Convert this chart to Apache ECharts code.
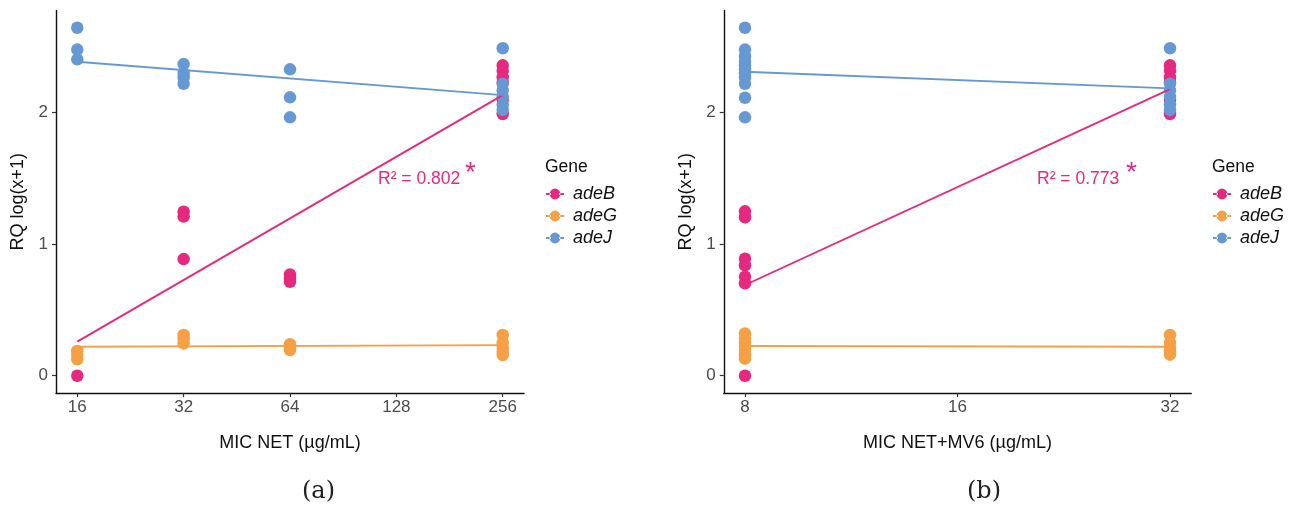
<!DOCTYPE html>
<html>
<head>
<meta charset="utf-8">
<script src="https://cdn.jsdelivr.net/npm/echarts@6/dist/echarts.min.js"></script>
<style>html,body{margin:0;padding:0;background:#fff;}#c{width:1295px;height:506px;}</style>
</head>
<body>
<div id="c"></div>
<script>
// ---- data: [MIC, RQ log(x+1)] ----
var genes = ['adeB', 'adeG', 'adeJ'];
var colors = ['#E6287E', '#F5A045', '#6699D4'];

// panel (a): MIC NET
var a_adeB = [[16,0],[32,1.247],[32,1.21],[32,0.887],[64,0.77],[64,0.74],[64,0.715],[256,2.36],[256,2.32],[256,2.27],[256,2.23],[256,2.10],[256,1.99]];
var a_adeG = [[16,0.188],[16,0.16],[16,0.125],[32,0.31],[32,0.28],[32,0.246],[64,0.24],[64,0.22],[64,0.195],[256,0.31],[256,0.25],[256,0.21],[256,0.18],[256,0.157]];
var a_adeJ = [[16,2.646],[16,2.48],[16,2.406],[32,2.37],[32,2.30],[32,2.27],[32,2.22],[64,2.33],[64,2.117],[64,1.965],[256,2.49],[256,2.22],[256,2.17],[256,2.12],[256,2.06],[256,2.02]];
// fitted lines (end points)
var a_fitB = [[16,0.259],[256,2.134]];
var a_fitG = [[16,0.22],[256,0.233]];
var a_fitJ = [[16,2.388],[256,2.134]];
var a_ticks = [16, 32, 64, 128, 256];
var a_r2 = 'R\u00B2 = 0.802';

// panel (b): MIC NET+MV6
var b_adeB = [[8,0],[8,1.25],[8,1.205],[8,0.89],[8,0.84],[8,0.753],[8,0.703],[32,2.36],[32,2.32],[32,2.27],[32,2.23],[32,2.10],[32,1.99]];
var b_adeG = [[8,0.322],[8,0.28],[8,0.25],[8,0.22],[8,0.19],[8,0.16],[8,0.13],[32,0.31],[32,0.25],[32,0.21],[32,0.18],[32,0.16]];
var b_adeJ = [[8,2.646],[8,2.48],[8,2.43],[8,2.39],[8,2.36],[8,2.33],[8,2.30],[8,2.27],[8,2.22],[8,2.114],[8,1.965],[32,2.49],[32,2.22],[32,2.17],[32,2.12],[32,2.06],[32,2.02]];
var b_fitB = [[8,0.69],[32,2.18]];
var b_fitG = [[8,0.226],[32,0.22]];
var b_fitJ = [[8,2.312],[32,2.185]];
var b_ticks = [8, 16, 32];
var b_r2 = 'R\u00B2 = 0.773';

var yTicks = [0, 1, 2];

// ---- build ----
var FONT = '"Liberation Sans", Arial, sans-serif';
function tr(arr) { return arr.map(function (p) { return [Math.log2(p[0]), p[1]]; }); }

function xAxisOf(idx, ticks, name) {
  var lt = ticks.map(function (t) { return Math.log2(t); });
  var lo = lt[0], hi = lt[lt.length - 1], pad = (hi - lo) * 0.05;
  return {
    type: 'value', gridIndex: idx, min: lo - pad, max: hi + pad,
    name: name, nameLocation: 'middle', nameGap: 41,
    nameTextStyle: { color: '#111', fontSize: 18, fontFamily: FONT },
    axisLine: { show: true, onZero: false, lineStyle: { color: '#111', width: 1.4 } },
    axisTick: { show: true, length: 4, customValues: lt, lineStyle: { color: '#333', width: 1.2 } },
    axisLabel: { customValues: lt, margin: 6, color: '#4d4d4d', fontSize: 17, fontFamily: FONT,
      formatter: function (v) { return String(Math.round(Math.pow(2, v))); } },
    splitLine: { show: false }
  };
}
function yAxisOf(idx) {
  return {
    type: 'value', gridIndex: idx, min: -0.132, max: 2.778,
    name: 'RQ log(x+1)', nameLocation: 'middle', nameGap: 29, nameRotate: 90,
    nameTextStyle: { color: '#111', fontSize: 18, fontFamily: FONT },
    axisLine: { show: true, onZero: false, lineStyle: { color: '#111', width: 1.4 } },
    axisTick: { show: true, length: 4, customValues: yTicks, lineStyle: { color: '#333', width: 1.2 } },
    axisLabel: { customValues: yTicks, margin: 8, color: '#4d4d4d', fontSize: 17, fontFamily: FONT },
    splitLine: { show: false }
  };
}

var series = [];
function addPanel(idx, pts, fits) {
  pts.forEach(function (d, i) {
    series.push({ name: genes[i], type: 'scatter', xAxisIndex: idx, yAxisIndex: idx,
      data: tr(d), symbolSize: 12.5, itemStyle: { color: colors[i], opacity: 1 }, z: 2 });
  });
  fits.forEach(function (d, i) {
    series.push({ name: genes[i], type: 'line', xAxisIndex: idx, yAxisIndex: idx,
      data: tr(d), showSymbol: false, symbol: 'none', itemStyle: { color: colors[i] },
      lineStyle: { color: colors[i], width: 1.9 }, z: 3, silent: true });
  });
}
addPanel(0, [a_adeB, a_adeG, a_adeJ], [a_fitB, a_fitG, a_fitJ]);
addPanel(1, [b_adeB, b_adeG, b_adeJ], [b_fitB, b_fitG, b_fitJ]);

var ICON = 'path://M0,4.6H5V6.4H0Z M13,4.6H18V6.4H13Z M3.6,5.5A5.4,5.4 0 1,0 14.4,5.5A5.4,5.4 0 1,0 3.6,5.5Z';
function legendOf(left) {
  return { data: genes.map(function (g) { return { name: g, icon: ICON }; }),
    orient: 'vertical', left: left, top: 180, itemWidth: 18, itemHeight: 11, itemGap: 4,
    textStyle: { fontStyle: 'italic', fontSize: 18, color: '#111', fontFamily: FONT, padding: [0, 0, 0, 4] } };
}

function txt(x, y, s, size, color, family) {
  return { type: 'text', left: x, top: y, style: { text: s, fontSize: size, fill: color,
    fontFamily: family || FONT } };
}

var option = {
  backgroundColor: '#fff',
  animation: false,
  grid: [
    { left: 56, top: 10.4, width: 468, height: 382.7, containLabel: false },
    { left: 723.75, top: 10.4, width: 467.5, height: 382.7, containLabel: false }
  ],
  xAxis: [xAxisOf(0, a_ticks, 'MIC NET (\u00B5g/mL)'), xAxisOf(1, b_ticks, 'MIC NET+MV6 (\u00B5g/mL)')],
  yAxis: [yAxisOf(0), yAxisOf(1)],
  legend: [legendOf(541), legendOf(1208)],
  series: series,
  graphic: [
    txt(545, 158, 'Gene', 17.5, '#111'),
    txt(1212, 158, 'Gene', 17.5, '#111'),
    txt(378, 170, a_r2, 17.5, '#E6287E'),
    txt(465, 159, '*', 28, '#E6287E'),
    txt(1037, 170, b_r2, 17.5, '#E6287E'),
    txt(1126, 159, '*', 28, '#E6287E'),
    txt(302, 480, '(a)', 24, '#222', '"DejaVu Serif", "Liberation Serif", serif'),
    txt(967, 480, '(b)', 24, '#222', '"DejaVu Serif", "Liberation Serif", serif')
  ]
};
echarts.init(document.getElementById('c')).setOption(option);
</script>
</body>
</html>
